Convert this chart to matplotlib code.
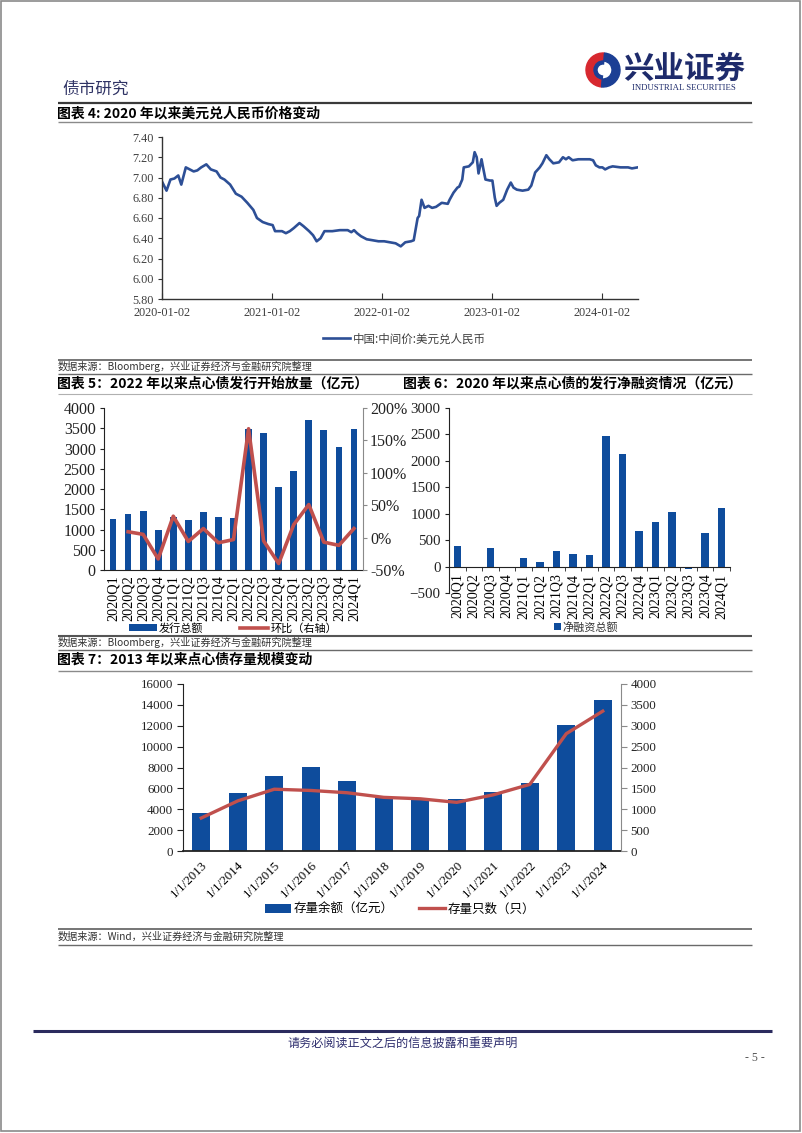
import numpy as np
import pandas as pd
import matplotlib
matplotlib.use("Agg")
import matplotlib.pyplot as plt
from matplotlib.patches import Wedge, Rectangle
import matplotlib.ticker as mticker

CJK = ['Noto Sans CJK SC', 'DejaVu Sans']
SERIF = ['Liberation Serif', 'DejaVu Serif']
plt.rcParams['font.family'] = CJK

# ---------------- data ----------------
fx_dates = ['2020-01-02', '2020-01-17', '2020-01-30', '2020-02-12', '2020-02-25', '2020-03-06',
            '2020-03-21', '2020-04-03', '2020-04-16', '2020-04-28', '2020-05-11', '2020-05-28',
            '2020-06-12', '2020-07-01', '2020-07-14', '2020-07-27', '2020-08-15', '2020-09-03',
            '2020-09-22', '2020-10-11', '2020-10-31', '2020-11-12', '2020-12-01', '2020-12-20',
            '2021-01-03', '2021-01-11', '2021-02-03', '2021-02-16', '2021-03-01', '2021-03-14',
            '2021-04-02', '2021-04-15', '2021-05-04', '2021-05-17', '2021-05-29', '2021-06-11',
            '2021-06-24', '2021-07-20', '2021-08-14', '2021-09-09', '2021-09-21', '2021-09-30',
            '2021-10-10', '2021-10-23', '2021-11-11', '2021-12-01', '2021-12-20', '2022-01-08',
            '2022-01-27', '2022-02-15', '2022-03-04', '2022-03-19', '2022-04-07', '2022-04-16',
            '2022-04-29', '2022-05-04', '2022-05-12', '2022-05-22', '2022-06-04', '2022-06-16',
            '2022-06-29', '2022-07-18', '2022-08-07', '2022-08-13', '2022-08-26', '2022-09-08',
            '2022-09-14', '2022-09-24', '2022-09-29', '2022-10-16', '2022-10-29', '2022-11-04',
            '2022-11-11', '2022-11-17', '2022-11-27', '2022-12-02', '2022-12-10', '2022-12-25',
            '2023-01-02', '2023-01-10', '2023-01-16', '2023-01-25', '2023-02-07', '2023-02-20',
            '2023-03-04', '2023-03-13', '2023-03-24', '2023-04-12', '2023-05-01', '2023-05-11',
            '2023-05-24', '2023-06-08', '2023-06-17', '2023-06-30', '2023-07-10', '2023-07-23',
            '2023-08-11', '2023-08-24', '2023-09-03', '2023-09-12', '2023-09-25', '2023-10-14',
            '2023-11-21', '2023-12-02', '2023-12-11', '2023-12-23', '2024-01-02', '2024-01-11',
            '2024-01-24', '2024-02-05', '2024-03-02', '2024-03-27', '2024-04-09', '2024-04-28']
fx_values = [6.96, 6.87, 6.98, 6.99, 7.02, 6.93,
             7.10, 7.08, 7.06, 7.07, 7.10, 7.13,
             7.08, 7.06, 7.00, 6.98, 6.93, 6.84,
             6.81, 6.75, 6.68, 6.60, 6.56, 6.54,
             6.53, 6.47, 6.47, 6.45, 6.47, 6.50,
             6.55, 6.52, 6.47, 6.43, 6.37, 6.40,
             6.47, 6.47, 6.48, 6.48, 6.46, 6.48,
             6.45, 6.42, 6.39, 6.38, 6.37, 6.37,
             6.36, 6.35, 6.32, 6.36, 6.37, 6.38,
             6.60, 6.62, 6.78, 6.70, 6.72, 6.70,
             6.71, 6.75, 6.74, 6.78, 6.85, 6.90,
             6.91, 6.98, 7.10, 7.11, 7.15, 7.25,
             7.20, 7.04, 7.18, 7.10, 6.98, 6.97,
             6.97, 6.80, 6.72, 6.75, 6.78, 6.88,
             6.95, 6.90, 6.88, 6.87, 6.88, 6.92,
             7.05, 7.10, 7.14, 7.22, 7.18, 7.14,
             7.15, 7.20, 7.18, 7.20, 7.17, 7.18,
             7.18, 7.17, 7.12, 7.10, 7.10, 7.08,
             7.10, 7.11, 7.10, 7.10, 7.09, 7.10]
fx_ticks = ['2020-01-02', '2021-01-02', '2022-01-02', '2023-01-02', '2024-01-02']

quarters = ['2020Q1', '2020Q2', '2020Q3', '2020Q4', '2021Q1', '2021Q2', '2021Q3', '2021Q4',
            '2022Q1', '2022Q2', '2022Q3', '2022Q4', '2023Q1', '2023Q2', '2023Q3', '2023Q4', '2024Q1']
issuance = [1270, 1390, 1460, 980, 1310, 1235, 1425, 1310, 1295, 3470, 3385, 2050,
            2435, 3715, 3465, 3045, 3490]
qoq_pct = [None, 9, 5, -33, 33, -6, 14, -8, -3, 168, -5, -40, 20, 51, -7, -12, 14]
net_financing = [390, 0, 350, -30, 170, 80, 300, 240, 215, 2470, 2130, 680, 850, 1030, -50, 640, 1100]

years = ['1/1/2013', '1/1/2014', '1/1/2015', '1/1/2016', '1/1/2017', '1/1/2018',
         '1/1/2019', '1/1/2020', '1/1/2021', '1/1/2022', '1/1/2023', '1/1/2024']
outstanding = [3680, 5550, 7170, 8020, 6660, 5100, 5030, 4940, 5610, 6480, 12100, 14490]
bond_count = [790, 1200, 1480, 1450, 1395, 1285, 1250, 1165, 1345, 1595, 2810, 3350]

BLUE = '#0E4C9C'
RED = '#C0504D'
LINEBLUE = '#2D4F96'

W, H = 802, 1133
fig = plt.figure(figsize=(W / 100, H / 100), dpi=100)


def rect(x0, y0, x1, y1):
    return [x0 / W, 1 - y1 / H, (x1 - x0) / W, (y1 - y0) / H]


# ---------------- overlay (page furniture) ----------------
ov = fig.add_axes([0, 0, 1, 1])
ov.set_xlim(0, W)
ov.set_ylim(H, 0)
ov.axis('off')
ov.add_patch(Rectangle((1, 1), W - 3, H - 3, fill=False, ec='#8a8a8a', lw=1.2))

# header
ov.text(62, 89, '债市研究', fontsize=12, color='#2E3264', va='center', ha='left', family=CJK)
ov.add_patch(Wedge((603, 70), 17, 95, 275, width=8, color='#D7282F'))
ov.add_patch(Wedge((603, 70), 17, -85, 95, width=8, color='#1C3F94'))
ov.add_patch(Wedge((603, 70), 9, 95, 275, width=3, color='#1C3F94'))
ov.text(684, 69, '兴业证券', fontsize=22, fontweight='bold', color='#1E2B6B',
        ha='center', va='center', family=CJK)
ov.text(684, 88, 'INDUSTRIAL SECURITIES', fontsize=6.3, color='#1E2B6B',
        ha='center', va='center', family=SERIF)

rules = [(103, 58, 752, '#3a3a3a', 1.6), (122, 58, 752, '#8a8a8a', 1.0),
         (360, 58, 752, '#6a6a6a', 1.3), (374, 58, 752, '#6a6a6a', 1.0),
         (394, 58, 752, '#b0b0b0', 0.8),
         (636, 58, 752, '#555555', 1.5), (650, 58, 752, '#6a6a6a', 1.0),
         (671, 58, 752, '#8a8a8a', 1.0),
         (929, 58, 752, '#6a6a6a', 1.3), (945, 58, 752, '#6a6a6a', 1.0),
         (1031, 33, 772, '#2B2B5E', 2.2)]
for y, x0, x1, c, lw in rules:
    ov.plot([x0, x1], [y, y], color=c, lw=lw, solid_capstyle='butt')

ov.text(57, 114, '图表 4: 2020 年以来美元兑人民币价格变动', fontsize=10, fontweight='bold',
        va='center', ha='left', family=CJK)
ov.text(57, 384, '图表 5：2022 年以来点心债发行开始放量（亿元）', fontsize=10, fontweight='bold',
        va='center', ha='left', family=CJK)
ov.text(403, 384, '图表 6：2020 年以来点心债的发行净融资情况（亿元）', fontsize=10, fontweight='bold',
        va='center', ha='left', family=CJK)
ov.text(57, 660, '图表 7：2013 年以来点心债存量规模变动', fontsize=10, fontweight='bold',
        va='center', ha='left', family=CJK)

src_kw = dict(fontsize=7.3, color='#333333', va='center', ha='left', family=CJK)
ov.text(58, 367, '数据来源：Bloomberg，兴业证券经济与金融研究院整理', **src_kw)
ov.text(58, 643, '数据来源：Bloomberg，兴业证券经济与金融研究院整理', **src_kw)
ov.text(58, 937, '数据来源：Wind，兴业证券经济与金融研究院整理', **src_kw)

ov.text(403, 1043, '请务必阅读正文之后的信息披露和重要声明', fontsize=8.7, color='#2E2E6E',
        ha='center', va='center', family=CJK)
ov.text(755, 1058, '- 5 -', fontsize=8.5, color='#555555', ha='center', va='center', family=SERIF)

# ---------------- chart 4: FX ----------------
ax1 = fig.add_axes(rect(162, 137, 638, 299))
ax1.set_facecolor('none')
d = pd.to_datetime(fx_dates)
l1, = ax1.plot(d, fx_values, color=LINEBLUE, lw=1.9)
ax1.set_ylim(5.8, 7.4)
ax1.set_yticks(np.arange(5.8, 7.41, 0.2))
ax1.yaxis.set_major_formatter(mticker.FormatStrFormatter('%.2f'))
ax1.set_xlim(pd.Timestamp('2020-01-02'), pd.Timestamp('2024-04-29'))
ax1.set_xticks(pd.to_datetime(fx_ticks))
ax1.set_xticklabels(fx_ticks)
for s in ['top', 'right']:
    ax1.spines[s].set_visible(False)
for s in ['left', 'bottom']:
    ax1.spines[s].set_color('#333333')
    ax1.spines[s].set_linewidth(1.0)
ax1.tick_params(axis='x', direction='in', length=4, pad=6, colors='#333333', labelcolor='#404040')
ax1.tick_params(axis='y', direction='out', length=3, pad=3, colors='#333333', labelcolor='#404040')
for lab in ax1.get_xticklabels() + ax1.get_yticklabels():
    lab.set_family(SERIF)
    lab.set_fontsize(8.8)
ax1.legend([l1], ['中国:中间价:美元兑人民币'], loc='center', frameon=False,
           bbox_to_anchor=(404 / W, 1 - 339 / H), bbox_transform=fig.transFigure,
           prop={'family': CJK, 'size': 8.3}, handlelength=2.4, handletextpad=0.2,
           labelcolor='#404040')

# ---------------- chart 5: issuance ----------------
ax5 = fig.add_axes(rect(104, 408, 363, 570))
ax5.set_facecolor('none')
x = np.arange(len(quarters))
b5 = ax5.bar(x, issuance, width=0.45, color=BLUE, zorder=2)
ax5.set_ylim(0, 4000)
ax5.set_yticks(np.arange(0, 4001, 500))
ax5.set_xlim(-0.6, len(quarters) - 0.4)
ax5.set_xticks(x)
ax5.set_xticklabels(quarters, rotation=90)
ax5.spines['top'].set_visible(False)
ax5.spines['right'].set_visible(False)
ax5.spines['left'].set_color('#222222')
ax5.spines['bottom'].set_color('#222222')
ax5.tick_params(axis='x', length=0, pad=4)
ax5.tick_params(axis='y', direction='out', length=3, pad=3, colors='#222222')
for lab in ax5.get_yticklabels():
    lab.set_family(SERIF); lab.set_fontsize(11.5)
for lab in ax5.get_xticklabels():
    lab.set_family(SERIF); lab.set_fontsize(10.3)
ax5r = ax5.twinx()
qx = [i for i, v in enumerate(qoq_pct) if v is not None]
qv = [v / 100 for v in qoq_pct if v is not None]
l5, = ax5r.plot(qx, qv, color=RED, lw=2.6, zorder=3)
ax5r.set_ylim(-0.5, 2.0)
ax5r.set_yticks(np.arange(-0.5, 2.01, 0.5))
ax5r.yaxis.set_major_formatter(mticker.FuncFormatter(lambda v, p: f'{v * 100:.0f}%'))
for s in ['top', 'left', 'bottom']:
    ax5r.spines[s].set_visible(False)
ax5r.spines['right'].set_color('#8a8a8a')
ax5r.tick_params(axis='y', direction='out', length=3, pad=2, colors='#8a8a8a', labelcolor='#222222')
for lab in ax5r.get_yticklabels():
    lab.set_family(SERIF); lab.set_fontsize(11.5)
ax5.legend([b5, l5], ['发行总额', '环比（右轴）'], loc='center', frameon=False, ncol=2,
           bbox_to_anchor=(233 / W, 1 - 628 / H), bbox_transform=fig.transFigure,
           prop={'family': CJK, 'size': 8}, handlelength=2.5, handleheight=0.7,
           handletextpad=0.2, columnspacing=3.3)

# ---------------- chart 6: net financing ----------------
ax6 = fig.add_axes(rect(449, 408, 730, 593))
ax6.set_facecolor('none')
ax6.spines['bottom'].set_position(('data', 0))
b6 = ax6.bar(x, net_financing, width=0.45, color=BLUE, zorder=2)
ax6.set_ylim(-500, 3000)
ax6.set_yticks(np.arange(-500, 3001, 500))
ax6.set_xlim(-0.5, len(quarters) - 0.5)
ax6.set_xticks(x)
ax6.set_xticks(np.arange(-0.5, len(quarters), 1), minor=True)
ax6.set_xticklabels(quarters, rotation=90, va='top', ha='center')
ax6.spines['top'].set_visible(False)
ax6.spines['right'].set_visible(False)
ax6.spines['bottom'].set_color('#222222')
ax6.spines['left'].set_color('#222222')
ax6.tick_params(axis='x', which='major', length=0, pad=5)
ax6.tick_params(axis='x', which='minor', length=3, direction='out', colors='#222222')
ax6.tick_params(axis='y', direction='out', length=3, pad=3, colors='#222222')
for lab in ax6.get_yticklabels():
    lab.set_family(SERIF); lab.set_fontsize(10.8)
for lab in ax6.get_xticklabels():
    lab.set_family(SERIF); lab.set_fontsize(10)
ax6.legend([b6], ['净融资总额'], loc='center', frameon=False,
           bbox_to_anchor=(586 / W, 1 - 627 / H), bbox_transform=fig.transFigure,
           prop={'family': CJK, 'size': 8}, handlelength=0.6, handleheight=0.6,
           handletextpad=0.15, labelcolor='#333333')

# ---------------- chart 7: outstanding ----------------
ax7 = fig.add_axes(rect(183, 684, 621, 851))
ax7.set_facecolor('none')
x7 = np.arange(len(years))
b7 = ax7.bar(x7, outstanding, width=0.5, color=BLUE, zorder=2)
ax7.set_ylim(0, 16000)
ax7.set_yticks(np.arange(0, 16001, 2000))
ax7.set_xlim(-0.5, len(years) - 0.5)
ax7.set_xticks(x7)
ax7.set_xticklabels(years, rotation=45, ha='right', rotation_mode='anchor')
ax7.spines['top'].set_visible(False)
ax7.spines['right'].set_visible(False)
ax7.spines['left'].set_color('#222222')
ax7.spines['bottom'].set_color('#222222')
ax7.spines['bottom'].set_linewidth(1.3)
ax7.tick_params(axis='x', length=0, pad=6)
ax7.tick_params(axis='y', direction='out', length=4, pad=3, colors='#222222')
for lab in ax7.get_yticklabels() + ax7.get_xticklabels():
    lab.set_family(SERIF); lab.set_fontsize(9.4)
ax7r = ax7.twinx()
l7, = ax7r.plot(x7, bond_count, color=RED, lw=2.4, zorder=3)
ax7r.set_ylim(0, 4000)
ax7r.set_yticks(np.arange(0, 4001, 500))
for s in ['top', 'left', 'bottom']:
    ax7r.spines[s].set_visible(False)
ax7r.spines['right'].set_color('#8a8a8a')
ax7r.tick_params(axis='y', direction='out', length=4, pad=3, colors='#8a8a8a', labelcolor='#222222')
for lab in ax7r.get_yticklabels():
    lab.set_family(SERIF); lab.set_fontsize(9.4)
ax7.legend([b7, l7], ['存量余额（亿元）', '存量只数（只）'], loc='center', frameon=False, ncol=2,
           bbox_to_anchor=(400 / W, 1 - 909 / H), bbox_transform=fig.transFigure,
           prop={'family': CJK, 'size': 9}, handlelength=2.1, handleheight=0.7,
           handletextpad=0.2, columnspacing=2.0)

fig.savefig('out.png', dpi=100)
